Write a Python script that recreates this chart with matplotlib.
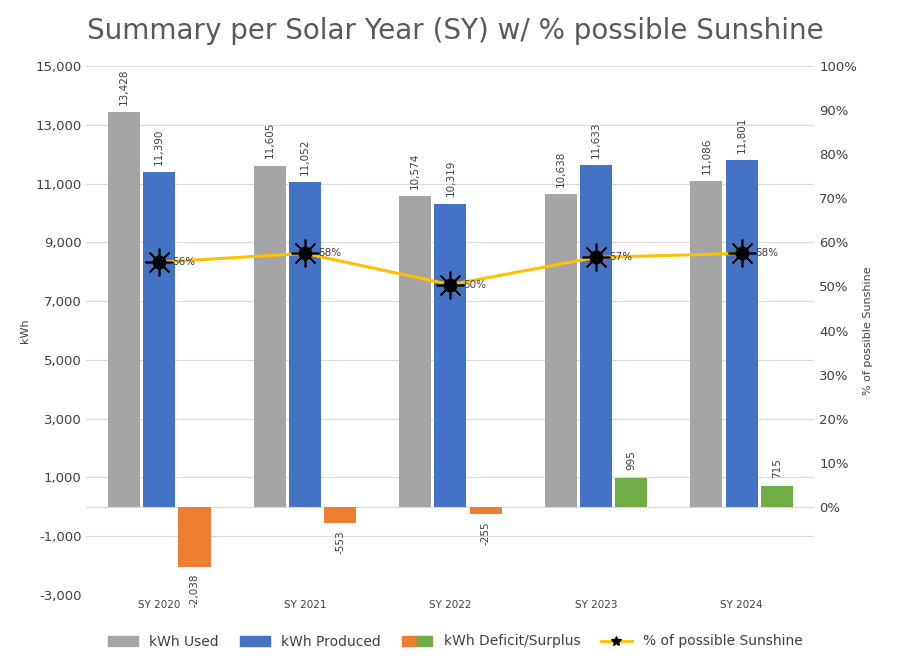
import numpy as np
import matplotlib
matplotlib.use("Agg")
import matplotlib.pyplot as plt
from matplotlib.patches import Patch
from matplotlib.lines import Line2D
from matplotlib.legend_handler import HandlerTuple

# ─── Datos ───────────────────────────────────────────────────────────────────
years = ["SY 2020", "SY 2021", "SY 2022", "SY 2023", "SY 2024"]
kwh_used = [13428, 11605, 10574, 10638, 11086]
kwh_produced = [11390, 11052, 10319, 11633, 11801]
kwh_balance = [-2038, -553, -255, 995, 715]
sunshine_pct = [55.5, 57.5, 50.4, 56.6, 57.5]
sunshine_lbl = ["56%", "58%", "50%", "57%", "58%"]

GREY, BLUE, ORANGE, GREEN, GOLD = "#a5a5a5", "#4472c4", "#ed7d31", "#70ad47", "#ffc000"
TXT = "#404040"

fig = plt.figure(figsize=(9.10, 6.61), dpi=100)
ax = fig.add_axes([0.095, 0.10, 0.80, 0.80])
ax2 = ax.twinx()

x = np.arange(len(years))
w = 0.22
bal_colors = [ORANGE if v < 0 else GREEN for v in kwh_balance]
ax.bar(x - w * 1.1, kwh_used, w, color=GREY, zorder=2)
ax.bar(x, kwh_produced, w, color=BLUE, zorder=2)
ax.bar(x + w * 1.1, kwh_balance, w, color=bal_colors, zorder=2)

for xi, u, p, b in zip(x, kwh_used, kwh_produced, kwh_balance):
    for xx, v in ((xi - w * 1.1, u), (xi, p), (xi + w * 1.1, b)):
        va = "bottom" if v >= 0 else "top"
        off = 250 if v >= 0 else -250
        ax.text(xx, v + off, f"{v:,}", rotation=90, ha="center", va=va,
                fontsize=7.5, color=TXT)

ax.set_ylim(-3000, 15000)
ax.set_yticks(range(-3000, 15001, 2000))
ax.set_yticklabels([f"{v:,}" for v in range(-3000, 15001, 2000)])
ax.grid(axis="y", color="#d9d9d9", lw=0.8, zorder=0)
ax.set_xticks(x)
ax.set_xticklabels(years, fontsize=7.5)
ax.set_xlim(-0.5, len(years) - 0.5)
ax.set_ylabel("kWh", fontsize=8, color=TXT)
ax.tick_params(length=0, colors=TXT, labelsize=9.5)
ax.tick_params(axis="x", labelsize=7.5)
ax.axhline(0, color="#d9d9d9", lw=0.8, zorder=1)

ax2.plot(x, sunshine_pct, color=GOLD, lw=2.2, zorder=3)
ax2.plot(x, sunshine_pct, "o", color="black", ms=9, zorder=4)
ax2.plot(x, sunshine_pct, marker=(8, 2, 0), ls="none", color="black", ms=20, mew=1.2, zorder=4)
for xi, s, l in zip(x, sunshine_pct, sunshine_lbl):
    ax2.text(xi + 0.09, s, l, va="center", fontsize=7.5, color=TXT, zorder=5)
ax2.set_ylim(-20, 100)
ax2.set_yticks(range(0, 101, 10))
ax2.set_yticklabels([f"{v}%" for v in range(0, 101, 10)])
ax2.set_ylabel("% of possible Sunshine", fontsize=8, color=TXT)
ax2.tick_params(length=0, colors=TXT, labelsize=9.5)

for a in (ax, ax2):
    for s in a.spines.values():
        s.set_visible(False)

fig.suptitle("Summary per Solar Year (SY) w/ % possible Sunshine",
             fontsize=20, color="#595959", y=0.975)

handles = [Patch(color=GREY), Patch(color=BLUE),
           (Patch(color=ORANGE), Patch(color=GREEN)),
           Line2D([], [], color=GOLD, lw=2, marker="*", mfc="black", mec="black", ms=7)]
labels = ["kWh Used", "kWh Produced", "kWh Deficit/Surplus", "% of possible Sunshine"]
fig.legend(handles, labels, loc="lower center", ncol=4, frameon=False,
           fontsize=10, bbox_to_anchor=(0.5, 0.0), labelcolor=TXT,
           handler_map={tuple: HandlerTuple(ndivide=None, pad=0)},
           handlelength=2.2, columnspacing=1.5)

fig.savefig("out.png", dpi=100)
